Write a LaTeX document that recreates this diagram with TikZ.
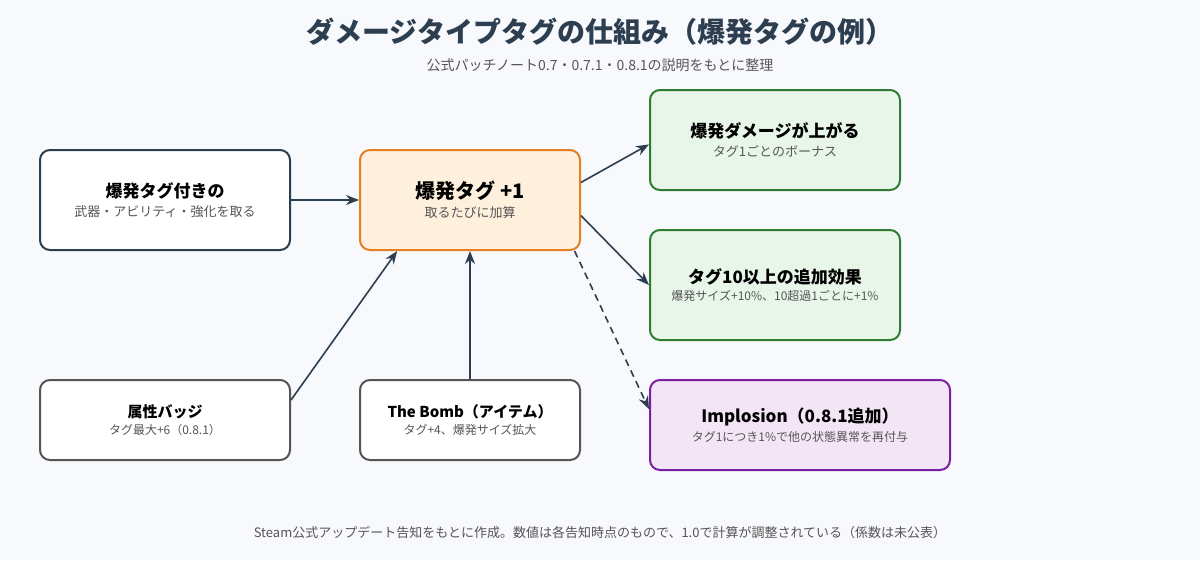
\documentclass[tikz,border=0pt]{standalone}
\usepackage{fontspec}
\setmainfont{Noto Sans CJK JP}
\usetikzlibrary{arrows.meta}
\definecolor{bg}{HTML}{F7F9FC}
\definecolor{ink}{HTML}{2C3E50}
\definecolor{sub}{HTML}{555555}
\definecolor{orangeline}{HTML}{E67E22}
\definecolor{orangefill}{HTML}{FEF0DC}
\definecolor{greenline}{HTML}{2E7D32}
\definecolor{greenfill}{HTML}{E8F5E9}
\definecolor{purpleline}{HTML}{7B1FA2}
\definecolor{purplefill}{HTML}{F3E5F5}
\definecolor{greyline}{HTML}{555555}
\newcommand{\boxtext}[4][17]{{\fontsize{#1}{#1}\selectfont\bfseries #3}\\[5pt]{\fontsize{#2}{#2}\selectfont\color{sub}#4}}
\begin{document}
\begin{tikzpicture}[x=1pt,y=-1pt,
  card/.style={draw,rounded corners=10pt,line width=2pt,align=center,inner sep=0pt,text=black},
  link/.style={draw=ink,line width=1.6pt,-{Stealth[length=13pt,width=10pt]}}]
\fill[bg] (0,0) rectangle (1200,560);
\node[text=ink,font=\fontsize{28}{32}\selectfont\bfseries] (title) at (600,32) {ダメージタイプタグの仕組み（爆発タグの例）};
\node[text=sub,font=\fontsize{14}{16}\selectfont] (subtitle) at (600,65) {公式パッチノート0.7・0.7.1・0.8.1の説明をもとに整理};
% left column
\node[card,draw=ink,fill=white,minimum width=250pt,minimum height=100pt] (pick) at (165,200) {\boxtext{13}{爆発タグ付きの}{武器・アビリティ・強化を取る}};
\node[card,draw=greyline,fill=white,minimum width=250pt,minimum height=80pt] (badge) at (165,420) {\boxtext[15]{12}{属性バッジ}{タグ最大+6（0.8.1）}};
% middle column
\node[card,draw=orangeline,fill=orangefill,minimum width=220pt,minimum height=100pt] (tag) at (470,200) {\boxtext[20]{13}{爆発タグ +1}{取るたびに加算}};
\node[card,draw=greyline,fill=white,minimum width=220pt,minimum height=80pt] (bomb) at (470,420) {\boxtext[15]{12}{The Bomb（アイテム）}{タグ+4、爆発サイズ拡大}};
% right column
\node[card,draw=greenline,fill=greenfill,minimum width=250pt,minimum height=100pt] (dmg) at (775,140) {\boxtext{13}{爆発ダメージが上がる}{タグ1ごとのボーナス}};
\node[card,draw=greenline,fill=greenfill,minimum width=250pt,minimum height=110pt] (ten) at (775,285) {\boxtext{12}{タグ10以上の追加効果}{爆発サイズ+10\%、10超過1ごとに+1\%}};
\node[card,draw=purpleline,fill=purplefill,minimum width=300pt,minimum height=90pt] (imp) at (800,425) {\boxtext{12}{Implosion（0.8.1追加）}{タグ1につき1\%で他の状態異常を再付与}};
% arrows
\draw[link] (pick) -- (tag);
\draw[link] (tag.9) -- (dmg.182);
\draw[link] (tag.-8) -- (ten.west);
\draw[link,dashed,dash pattern=on 7pt off 5pt] (tag.-26) -- (imp.174);
\draw[link] (badge.9) -- (tag.215);
\draw[link] (bomb) -- (tag);
\node[text=sub,font=\fontsize{13}{15}\selectfont] (note) at (600,533) {Steam公式アップデート告知をもとに作成。数値は各告知時点のもので、1.0で計算が調整されている（係数は未公表）};
\end{tikzpicture}
\end{document}
